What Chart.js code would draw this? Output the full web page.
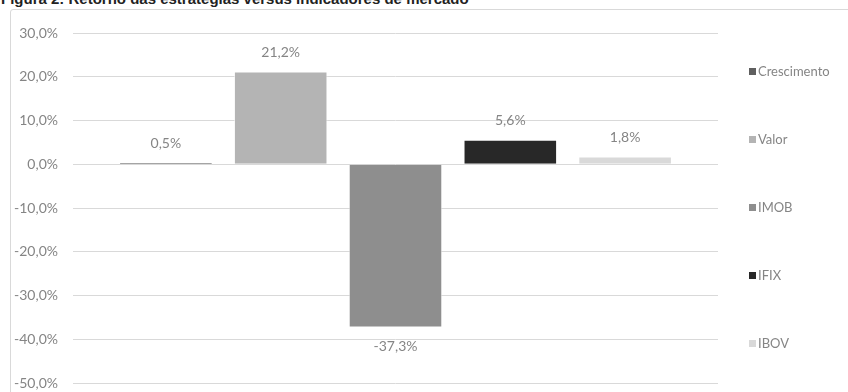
<!DOCTYPE html>
<html>
<head>
<meta charset="utf-8">
<script src="https://cdn.jsdelivr.net/npm/chart.js@4.4.0/dist/chart.umd.min.js"></script>
<style>
    html, body { margin: 0; padding: 0; background: #fff; overflow: hidden; }
    #title { position: absolute; left: 1px; top: -10px; font: bold 15px "Liberation Sans", Arial, sans-serif; color: #222; white-space: nowrap; }
    #frame { position: absolute; left: 10px; top: 9px; width: 900px; height: 420px; border: 1px solid #d9d9d9; border-radius: 3px; }
    #chart { position: absolute; left: 0; top: 0; }
</style>
</head>
<body>
<div id="title">Figura 2: Retorno das estratégias versus indicadores de mercado</div>
<div id="frame"></div>
<canvas id="chart" width="848" height="392"></canvas>
<script>
const seriesNames = ['Crescimento', 'Valor', 'IMOB', 'IFIX', 'IBOV'];
const seriesValues = [0.5, 21.2, -37.3, 5.6, 1.8];
const seriesColors = ['#5f5f5f', '#b4b4b4', '#8e8e8e', '#282828', '#d9d9d9'];
const yMin = -50, yMax = 30, yStep = 10;

const fmt = v => v.toFixed(1).replace('.', ',') + '%';
const textGray = '#858585';
const font = { family: 'Lato, "Open Sans", sans-serif', size: 14 };

// rótulos de dados acima/abaixo das barras
const barLabels = {
    id: 'barLabels',
    afterDatasetsDraw(chart) {
        const ctx = chart.ctx;
        ctx.save();
        ctx.font = `${font.size}px ${font.family}`;
        ctx.fillStyle = textGray;
        ctx.textAlign = 'center';
        chart.data.datasets.forEach((ds, i) => {
            const bar = chart.getDatasetMeta(i).data[0];
            const v = ds.data[0];
            if (v >= 0) {
                ctx.textBaseline = 'bottom';
                ctx.fillText(fmt(v), bar.x, bar.y - 12);
            } else {
                ctx.textBaseline = 'top';
                ctx.fillText(fmt(v), bar.x, bar.y + 12);
            }
        });
        ctx.restore();
    }
};

// legenda à direita, distribuída na altura da área do gráfico
const sideLegend = {
    id: 'sideLegend',
    afterDraw(chart) {
        const ctx = chart.ctx, area = chart.chartArea;
        const n = chart.data.datasets.length;
        const margin = 39;
        const gap = (area.bottom - area.top - 2 * margin) / (n - 1);
        const x = area.right + 31;
        ctx.save();
        ctx.font = `13px ${font.family}`;
        ctx.textBaseline = 'middle';
        ctx.textAlign = 'left';
        chart.data.datasets.forEach((ds, i) => {
            const y = area.top + margin + i * gap;
            ctx.fillStyle = ds.backgroundColor;
            ctx.fillRect(x, y - 4, 7, 7);
            ctx.fillStyle = textGray;
            ctx.fillText(ds.label, x + 9, y);
        });
        ctx.restore();
    }
};

new Chart(document.getElementById('chart'), {
    type: 'bar',
    data: {
        labels: [''],
        datasets: seriesNames.map((name, i) => ({
            label: name,
            data: [seriesValues[i]],
            backgroundColor: seriesColors[i],
            borderColor: 'rgba(255,255,255,0.6)',
            borderWidth: 1
        }))
    },
    options: {
        responsive: false,
        animation: false,
        categoryPercentage: 0.89,
        barPercentage: 0.815,
        layout: { padding: { left: 0, right: 130, top: 33, bottom: 9 } },
        plugins: { legend: { display: false }, tooltip: { enabled: false } },
        scales: {
            x: { display: false },
            y: {
                min: yMin, max: yMax,
                afterFit: s => { s.width = 73; },
                border: { display: false },
                grid: { color: '#d9d9d9', drawTicks: true, tickLength: 15, tickColor: 'rgba(0,0,0,0)' },
                ticks: { stepSize: yStep, padding: 0, color: textGray, font: font, callback: v => fmt(v) }
            }
        }
    },
    plugins: [barLabels, sideLegend]
});
</script>
</body>
</html>
